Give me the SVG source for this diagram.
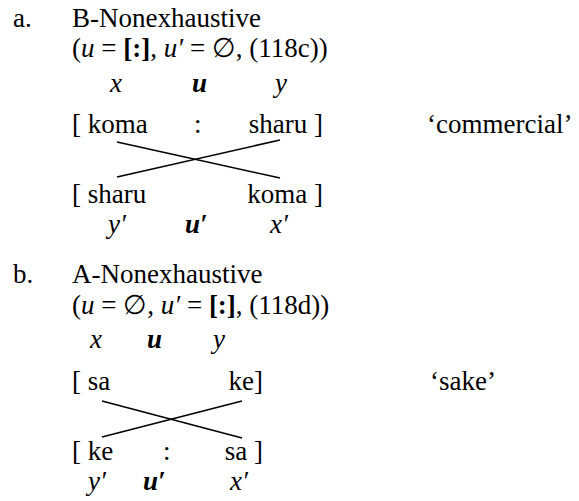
<svg xmlns="http://www.w3.org/2000/svg" width="579" height="501" viewBox="0 0 579 501">
<style>
text{font-family:"Liberation Serif","Times New Roman","DejaVu Serif",serif;font-size:27px;fill:#000}
.i{font-style:italic}
.b{font-weight:bold}
.bi{font-weight:bold;font-style:italic}
.ln{stroke:#000;stroke-width:1.6;fill:none}
</style>
<rect width="579" height="501" fill="#fff"/>
<g id="a">
<text x="13" y="27">a.</text>
<text x="72" y="27">B-Nonexhaustive</text>
<text x="72" y="57">(<tspan class="i">u</tspan> = <tspan class="b">[:]</tspan>, <tspan class="i">u′</tspan> = ∅, (118c))</text>
<text class="i" x="110" y="92">x</text>
<text class="bi" x="192" y="92">u</text>
<text class="i" x="275" y="92">y</text>
<text x="72" y="133">[ koma</text>
<text x="194" y="133">:</text>
<text x="323" y="133" text-anchor="end">sharu ]</text>
<text x="427" y="133">‘commercial’</text>
<text x="72" y="203">[ sharu</text>
<text x="323" y="203" text-anchor="end">koma ]</text>
<text class="i" x="108" y="233">y′</text>
<text class="bi" x="185" y="233">u′</text>
<text class="i" x="270" y="233">x′</text>
</g>
<g id="b">
<text x="13" y="283">b.</text>
<text x="72" y="283">A-Nonexhaustive</text>
<text x="72" y="314">(<tspan class="i">u</tspan> = ∅, <tspan class="i">u′</tspan> = <tspan class="b">[:]</tspan>, (118d))</text>
<text class="i" x="90" y="348">x</text>
<text class="bi" x="147" y="348">u</text>
<text class="i" x="213" y="348">y</text>
<text x="72" y="390">[ sa</text>
<text x="263" y="390" text-anchor="end">ke]</text>
<text x="430" y="390">‘sake’</text>
<text x="72" y="460">[ ke</text>
<text x="163" y="460">:</text>
<text x="263" y="460" text-anchor="end">sa ]</text>
<text class="i" x="88" y="490">y′</text>
<text class="bi" x="143" y="490">u′</text>
<text class="i" x="230" y="490">x′</text>
</g>
<g id="connectors">
<line class="ln" x1="117" y1="142" x2="280" y2="178"/>
<line class="ln" x1="117" y1="177" x2="280" y2="140"/>
<line class="ln" x1="102" y1="401" x2="242" y2="438"/>
<line class="ln" x1="102" y1="437" x2="242" y2="401"/>
</g>
</svg>
